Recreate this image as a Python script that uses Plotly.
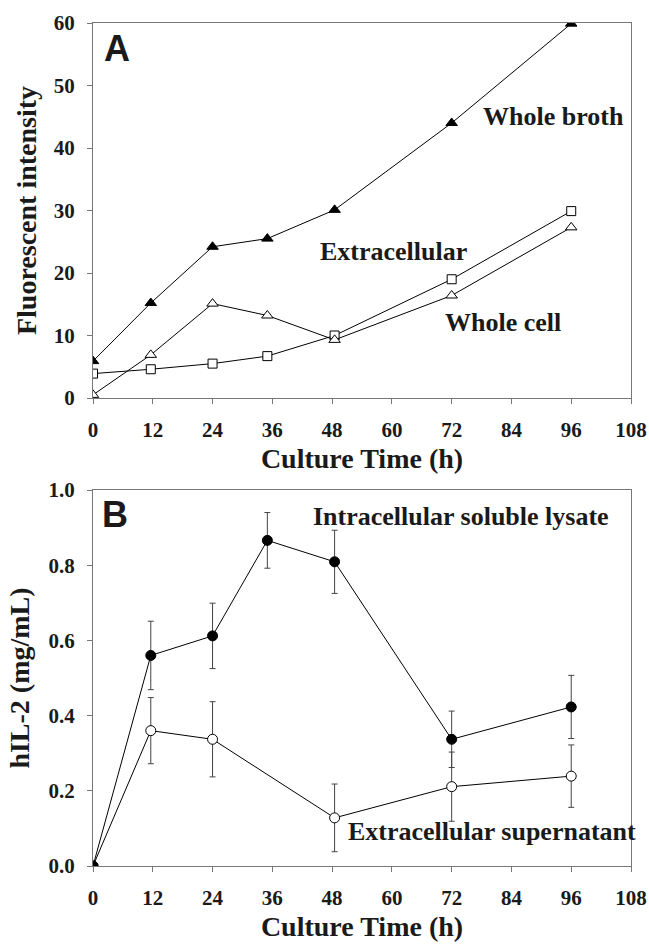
import plotly.graph_objects as go
from plotly.subplots import make_subplots

# Panel A data
time_a = [0, 11.6, 24, 35, 48.5, 72, 96]
whole_broth = [5.9, 15.2, 24.2, 25.5, 30.1, 44.0, 59.9]
extracellular = [3.9, 4.6, 5.5, 6.7, 10.0, 19.0, 29.9]
whole_cell = [0.5, 6.9, 15.1, 13.2, 9.3, 16.4, 27.3]

# Panel B data
time_intra = [0, 11.6, 24, 35, 48.5, 72, 96]
intra = [0.0, 0.560, 0.612, 0.866, 0.809, 0.337, 0.423]
intra_err = [0.0, 0.091, 0.087, 0.074, 0.084, 0.075, 0.084]
time_extra = [0, 11.6, 24, 48.5, 72, 96]
extra = [0.0, 0.360, 0.337, 0.128, 0.211, 0.239]
extra_err = [0.0, 0.088, 0.100, 0.090, 0.092, 0.083]

x_ticks = [0, 12, 24, 36, 48, 60, 72, 84, 96, 108]

FONT = "Liberation Serif"
TXT = "#1a1a1a"
fig = make_subplots(rows=2, cols=1)

line = dict(color="black", width=1)
fig.add_trace(go.Scatter(x=time_a, y=whole_broth, mode="lines+markers", line=line,
                         marker=dict(symbol="triangle-up", size=10, color="black",
                                     line=dict(color="black", width=1))), row=1, col=1)
fig.add_trace(go.Scatter(x=time_a, y=extracellular, mode="lines+markers", line=line,
                         marker=dict(symbol="square", size=9, color="white",
                                     line=dict(color="black", width=1))), row=1, col=1)
fig.add_trace(go.Scatter(x=time_a, y=whole_cell, mode="lines+markers", line=line,
                         marker=dict(symbol="triangle-up", size=10, color="white",
                                     line=dict(color="black", width=1))), row=1, col=1)

err_style = dict(type="data", thickness=1, width=3, color="#444")
fig.add_trace(go.Scatter(x=time_extra, y=extra, mode="lines+markers", line=line,
                         error_y=dict(array=extra_err, **err_style),
                         marker=dict(symbol="circle", size=10, color="white",
                                     line=dict(color="black", width=1))), row=2, col=1)
fig.add_trace(go.Scatter(x=time_intra, y=intra, mode="lines+markers", line=line,
                         error_y=dict(array=intra_err, **err_style),
                         marker=dict(symbol="circle", size=10, color="black",
                                     line=dict(color="black", width=1))), row=2, col=1)

W, H = 649, 946
x_dom = [93 / W, 631 / W]
ya_dom = [1 - 398 / H, 1 - 23 / H]
yb_dom = [1 - 866 / H, 1 - 490 / H]

tick_font = dict(family=FONT, size=21, color=TXT, weight="bold")
title_font = dict(family=FONT, size=28, color=TXT, weight="bold")
axis_common = dict(showline=True, linecolor="#777", linewidth=1, mirror=True,
                   ticks="outside", ticklen=5, tickcolor="#777", showgrid=False,
                   zeroline=False, tickfont=tick_font, automargin=False)

for r in (1, 2):
    xa = "xaxis" if r == 1 else "xaxis2"
    fig.layout[xa].update(domain=x_dom, range=[0, 108], tickvals=x_ticks,
                          ticklabelstandoff=8,
                          title=dict(text="Culture Time (h)", standoff=7, font=title_font),
                          **axis_common)

fig.layout.yaxis.update(domain=ya_dom, range=[0, 60], tickvals=[0, 10, 20, 30, 40, 50, 60],
                        ticklabelstandoff=8,
                        title=dict(text="Fluorescent intensity", standoff=8, font=title_font),
                        **axis_common)
fig.layout.yaxis2.update(domain=yb_dom, range=[0, 1.0], tickvals=[0, 0.2, 0.4, 0.6, 0.8, 1.0],
                         tickformat=".1f", ticklabelstandoff=8,
                         title=dict(text="hIL-2 (mg/mL)", standoff=10, font=title_font),
                         **axis_common)

ann_font = dict(family=FONT, size=26, color=TXT)
letter_font = dict(family="Liberation Sans", size=36, color=TXT)
anns = [
    dict(x=4.8, y=56.0, xref="x", yref="y", text="<b>A</b>", font=letter_font),
    dict(x=92.4, y=45.1, xref="x", yref="y", text="<b>Whole broth</b>", font=ann_font),
    dict(x=60.4, y=23.5, xref="x", yref="y", text="<b>Extracellular</b>", font=ann_font),
    dict(x=82.4, y=12.1, xref="x", yref="y", text="<b>Whole cell</b>", font=ann_font),
    dict(x=4.4, y=0.936, xref="x2", yref="y2", text="<b>B</b>", font=letter_font),
    dict(x=73.9, y=0.929, xref="x2", yref="y2", text="<b>Intracellular soluble lysate</b>", font=ann_font),
    dict(x=80.1, y=0.092, xref="x2", yref="y2", text="<b>Extracellular supernatant</b>", font=ann_font),
]
for a in anns:
    a.update(showarrow=False, xanchor="center", yanchor="middle")
fig.update_layout(annotations=anns)

fig.update_layout(width=W, height=H, margin=dict(l=0, r=0, t=0, b=0),
                  plot_bgcolor="white", paper_bgcolor="white", showlegend=False,
                  font=dict(family=FONT, color=TXT))

fig.write_html("out.html")
